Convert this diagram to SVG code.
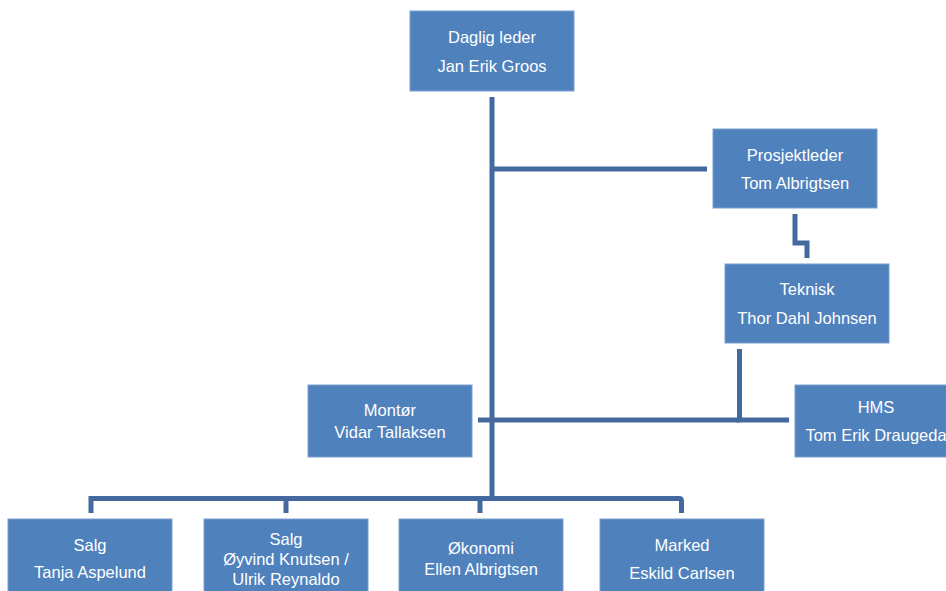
<svg xmlns="http://www.w3.org/2000/svg" width="946" height="591" viewBox="0 0 946 591">
<style>
.box{fill:#4F81BD;stroke:#7A9FCF;stroke-width:1}
.t{font-family:"Liberation Sans",Arial,sans-serif;font-size:16.5px;fill:#FFFFFF;text-anchor:middle}
.c{fill:none;stroke:#44699F;stroke-width:5}
</style>
<rect width="946" height="591" fill="#FFFFFF"/>
<g id="connectors">
<path class="c" d="M492 97 V498" stroke-width="6"/>
<path class="c" d="M492 169 H707"/>
<path class="c" d="M795 214 V243 H807 V258" stroke-width="4.5"/>
<path class="c" d="M478 420 H740"/>
<path class="c" d="M739.5 349 V420 H789" stroke-width="4.5"/>
<path class="c" d="M91 513 V498.5 H679 Q681.5 498.5 681.5 501 V513"/>
<path class="c" d="M286 498.5 V513"/>
<path class="c" d="M480 498.5 V513"/>
</g>
<g id="n-daglig">
<rect class="box" x="410" y="11" width="164" height="80"/>
<text class="t" x="492" y="43">Daglig leder</text>
<text class="t" x="492" y="72">Jan Erik Groos</text>
</g>
<g id="n-prosjekt">
<rect class="box" x="713" y="129" width="164" height="79"/>
<text class="t" x="795" y="161">Prosjektleder</text>
<text class="t" x="795" y="189">Tom Albrigtsen</text>
</g>
<g id="n-teknisk">
<rect class="box" x="725" y="264" width="164" height="79"/>
<text class="t" x="807" y="295">Teknisk</text>
<text class="t" x="807" y="324">Thor Dahl Johnsen</text>
</g>
<g id="n-montor">
<rect class="box" x="308" y="385" width="164" height="72"/>
<text class="t" x="390" y="416">Montør</text>
<text class="t" x="390" y="438">Vidar Tallaksen</text>
</g>
<g id="n-hms">
<rect class="box" x="795" y="385" width="164" height="72"/>
<text class="t" x="876" y="413">HMS</text>
<text class="t" x="876" y="441">Tom Erik Draugeda</text>
</g>
<g id="n-salg1">
<rect class="box" x="8" y="519" width="164" height="80"/>
<text class="t" x="90" y="551">Salg</text>
<text class="t" x="90" y="578">Tanja Aspelund</text>
</g>
<g id="n-salg2">
<rect class="box" x="204" y="519" width="164" height="80"/>
<text class="t" x="286" y="545">Salg</text>
<text class="t" x="286" y="565">Øyvind Knutsen /</text>
<text class="t" x="286" y="585">Ulrik Reynaldo</text>
</g>
<g id="n-okonomi">
<rect class="box" x="399" y="519" width="164" height="80"/>
<text class="t" x="481" y="554">Økonomi</text>
<text class="t" x="481" y="575">Ellen Albrigtsen</text>
</g>
<g id="n-marked">
<rect class="box" x="600" y="519" width="164" height="80"/>
<text class="t" x="682" y="551">Marked</text>
<text class="t" x="682" y="579">Eskild Carlsen</text>
</g>
</svg>
